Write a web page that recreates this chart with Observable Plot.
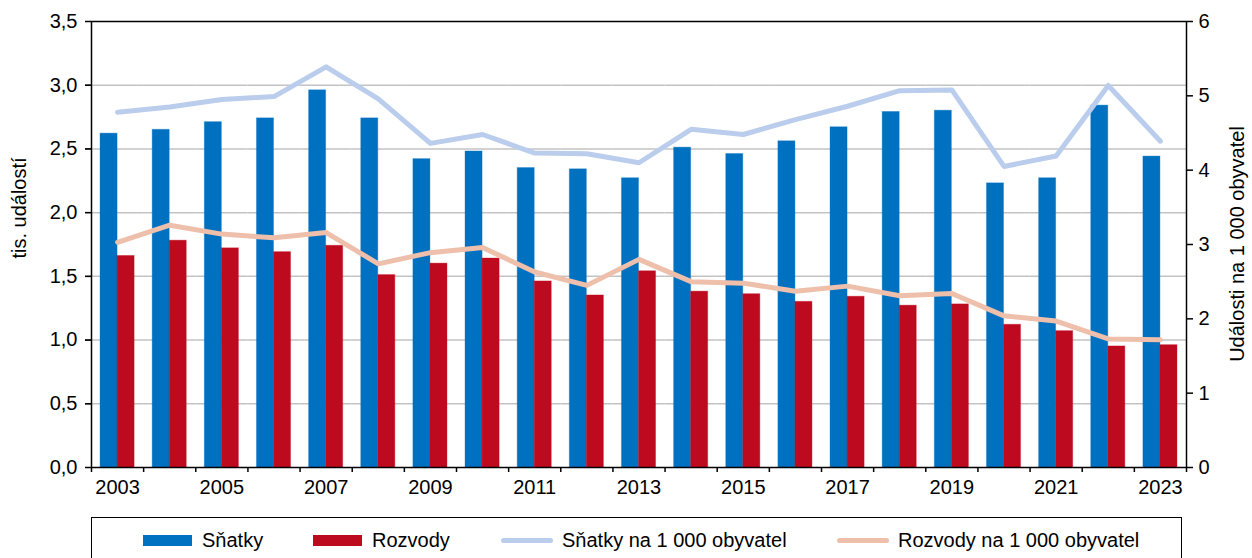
<!DOCTYPE html>
<html>
<head>
<meta charset="utf-8">
<script src="https://cdn.jsdelivr.net/npm/d3@7"></script>
<script src="https://cdn.jsdelivr.net/npm/@observablehq/plot@0.6"></script>
<style>
  html, body { margin: 0; padding: 0; background: #fff; overflow: hidden; }
  #wrap { position: relative; width: 1252px; height: 558px; font-family: "Liberation Sans", Arial, sans-serif; color: #000; }
  #wrap > .layer { position: absolute; left: 0; top: 0; }
  .ylab { position: absolute; font-size: 20px; white-space: nowrap; transform: translate(-50%, -50%) rotate(-90deg); }
  #legend { position: absolute; left: 91px; top: 517px; width: 1091px; height: 60px; border: 1.5px solid #000; box-sizing: border-box; }
  .item { position: absolute; top: 11px; height: 22px; display: flex; align-items: center; font-size: 20px; white-space: nowrap; }
  .sw { display: inline-block; width: 49px; height: 11px; margin-right: 10px; }
  .ln { display: inline-block; width: 52px; height: 5px; border-radius: 3px; margin-right: 9px; }
</style>
</head>
<body>
<div id="wrap"></div>
<script>
const years = d3.range(2003, 2024);
const seriesBars = ["Sňatky", "Rozvody"];
const seriesLines = ["Sňatky na 1 000 obyvatel", "Rozvody na 1 000 obyvatel"];
const snatky = [2.62, 2.65, 2.71, 2.74, 2.96, 2.74, 2.42, 2.48, 2.35, 2.34, 2.27, 2.51, 2.46, 2.56, 2.67, 2.79, 2.80, 2.23, 2.27, 2.84, 2.44];
const rozvody = [1.66, 1.78, 1.72, 1.69, 1.74, 1.51, 1.60, 1.64, 1.46, 1.35, 1.54, 1.38, 1.36, 1.30, 1.34, 1.27, 1.28, 1.12, 1.07, 0.95, 0.96];
const snatkyRate = [4.78, 4.85, 4.95, 4.99, 5.39, 4.96, 4.36, 4.48, 4.23, 4.22, 4.10, 4.55, 4.48, 4.68, 4.86, 5.07, 5.08, 4.05, 4.19, 5.14, 4.39];
const rozvodyRate = [3.03, 3.26, 3.14, 3.09, 3.16, 2.74, 2.89, 2.96, 2.63, 2.45, 2.80, 2.50, 2.48, 2.37, 2.44, 2.31, 2.34, 2.04, 1.97, 1.73, 1.72];
const leftTicks = [0, 0.5, 1.0, 1.5, 2.0, 2.5, 3.0, 3.5];
const gridTicks = [0.5, 1.0, 1.5, 2.0, 2.5, 3.0];
const rightTicks = [0, 1, 2, 3, 4, 5, 6];
const labelYears = years.filter(y => y % 2 === 1);
const boundaries = d3.range(years.length + 1).map(i => years[0] - 0.5 + i);
const barColors = ["#0070C0", "#BE0A1E"];
const lineColors = ["#BBCDEC", "#EEBFAA"];

const barRows = [];
years.forEach((y, i) => {
  barRows.push({year: y, series: seriesBars[0], value: snatky[i]});
  barRows.push({year: y, series: seriesBars[1], value: rozvody[i]});
});
const lineRows = [];
seriesLines.forEach((s, k) => {
  const vals = k === 0 ? snatkyRate : rozvodyRate;
  years.forEach((y, i) => lineRows.push({year: y, series: s, value: vals[i]}));
});

const W = 1252, H = 510, mL = 91, mR = 66, mT = 21, mB = 43;
const font = "Liberation Sans, Arial, sans-serif";
const comma = d => d.toFixed(1).replace(".", ",");

const p1 = Plot.plot({
  width: W, height: H, marginLeft: mL, marginRight: mR, marginTop: mT, marginBottom: mB,
  style: {fontFamily: font, fontSize: "20px", background: "white", color: "#000"},
  facet: {data: barRows, x: "year"},
  fx: {domain: years, padding: 0, axis: null, round: false},
  x: {domain: seriesBars, paddingInner: 0, paddingOuter: 0.53, axis: null, round: false},
  y: {domain: [0, 3.5], ticks: leftTicks, tickFormat: comma, tickSize: 6, tickPadding: 8, label: null},
  color: {domain: seriesBars, range: barColors},
  marks: [
    Plot.gridY(gridTicks, {stroke: "#C3C3C3", strokeOpacity: 1, strokeWidth: 1.5}),
    Plot.barY(barRows, {x: "series", y: "value", fill: "series", stroke: "series", strokeOpacity: 0.35, strokeWidth: 1})
  ]
});

const p2 = Plot.plot({
  width: W, height: H, marginLeft: mL, marginRight: mR, marginTop: mT, marginBottom: mB,
  style: {fontFamily: font, fontSize: "20px", background: "transparent", color: "#000"},
  x: {type: "linear", domain: [years[0] - 0.5, years[years.length - 1] + 0.5], axis: null},
  y: {domain: [0, 6], axis: null},
  color: {domain: seriesLines, range: lineColors},
  marks: [
    Plot.line(lineRows, {x: "year", y: "value", z: "series", stroke: "series", strokeWidth: 5, strokeLinecap: "round", strokeLinejoin: "round"}),
    Plot.frame({stroke: "#000", strokeWidth: 1.5}),
    Plot.axisX(boundaries, {tickSize: 5, tickFormat: () => "", strokeWidth: 1.5, label: null}),
    Plot.axisX(labelYears, {tickSize: 0, tickPadding: 12, tickFormat: d => String(d), label: null}),
    Plot.axisY(rightTicks, {anchor: "right", tickSize: 6, tickPadding: 6, tickFormat: d => String(d), strokeWidth: 1.5, label: null}),
    Plot.axisY(leftTicks.map(v => v * 6 / 3.5), {anchor: "left", tickSize: 6, tickFormat: () => "", strokeWidth: 1.5, label: null})
  ]
});

const wrap = document.getElementById("wrap");
p1.classList.add("layer"); p2.classList.add("layer");
wrap.appendChild(p1); wrap.appendChild(p2);

const l1 = document.createElement("div");
l1.className = "ylab"; l1.style.left = "19px"; l1.style.top = "208px"; l1.textContent = "tis. událostí";
wrap.appendChild(l1);
const l2 = document.createElement("div");
l2.className = "ylab"; l2.style.left = "1237px"; l2.style.top = "244px"; l2.textContent = "Události na 1 000 obyvatel";
wrap.appendChild(l2);

const legend = document.createElement("div");
legend.id = "legend";
const items = [
  {label: seriesBars[0], color: barColors[0], kind: "sw", left: 51},
  {label: seriesBars[1], color: barColors[1], kind: "sw", left: 221},
  {label: seriesLines[0], color: lineColors[0], kind: "ln", left: 409},
  {label: seriesLines[1], color: lineColors[1], kind: "ln", left: 745}
];
items.forEach(it => {
  const d = document.createElement("div");
  d.className = "item"; d.style.left = it.left + "px";
  const s = document.createElement("span");
  s.className = it.kind; s.style.background = it.color;
  d.appendChild(s);
  d.appendChild(document.createTextNode(it.label));
  legend.appendChild(d);
});
wrap.appendChild(legend);
</script>
</body>
</html>
